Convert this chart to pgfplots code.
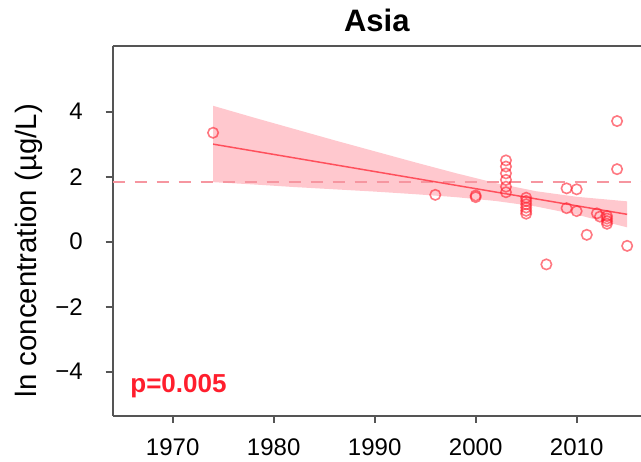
\documentclass[border=0pt]{standalone}
\usepackage{fontspec}
\setmainfont{Liberation Sans}
\usepackage{pgfplots}
\pgfplotsset{compat=1.18}
\definecolor{ptred}{RGB}{255,30,45}
\definecolor{bandpink}{RGB}{255,200,206}
\definecolor{dashpink}{RGB}{246,150,160}
\definecolor{frame}{RGB}{85,85,85}

\begin{document}
\begin{tikzpicture}
\path[use as bounding box] (-56.35bp,-23.25bp) rectangle (264.15bp,207.75bp);
\begin{axis}[
  name=main,
  at={(0,0)}, anchor=south west,
  scale only axis, width=264.15bp, height=184.75bp,
  xmin=1964.06, xmax=2016.37, ymin=-5.35, ymax=6.02,
  axis x line*=box, axis y line*=left,
  axis line style={frame, line width=1bp},
  xtick={1970,1980,1990,2000,2010},
  xticklabels={1970,1980,1990,2000,2010},
  ytick={-4,-2,0,2,4},
  yticklabels={−4,−2,0,2,4},
  xtick pos=bottom, ytick pos=left,
  tick align=outside, major tick length=3.5bp,
  tick style={frame, line width=1bp},
  tick label style={font=\fontsize{12bp}{14bp}\selectfont, text=black},
  xticklabel style={yshift=-4.4bp},
  yticklabel style={xshift=-8bp},
  ylabel={ln concentration (µg/L)},
  ylabel style={at={(axis description cs:-0.159,0.446)}, anchor=center,
    font=\fontsize{14.7bp}{16bp}\selectfont},
  clip mode=individual,
]
% confidence band
\addplot[draw=none, fill=bandpink] coordinates {
  (1974,4.18) (1978,3.82) (1982,3.47) (1986,3.12) (1990,2.78) (1994,2.44)
  (1998,2.11) (2002,1.80) (2006,1.55) (2010,1.38) (2015,1.24)
  (2015,0.44) (2010,0.83) (2006,1.08) (2002,1.25) (1998,1.37) (1994,1.46)
  (1990,1.54) (1986,1.61) (1982,1.68) (1978,1.76) (1974,1.83)} -- cycle;
% reference level
\addplot[dashpink, line width=1bp, dash pattern=on 6bp off 5bp] coordinates {(1964.06,1.85) (2016.37,1.85)};
% fitted trend
\addplot[ptred, draw opacity=0.7, line width=0.75bp] coordinates {(1974,3.00) (2015,0.84)};
% observations
\addplot[only marks, mark=o, mark size=2.6bp,
  mark options={draw=ptred, draw opacity=0.6, line width=0.8bp}] coordinates {
  (1974,3.35) (1996,1.44) (2000,1.42) (2000,1.37)
  (2003,2.50) (2003,2.31) (2003,2.10) (2003,1.90) (2003,1.69) (2003,1.52)
  (2005,1.35) (2005,1.25) (2005,1.15) (2005,1.05) (2005,0.95) (2005,0.86)
  (2007,-0.70) (2009,1.64) (2009,1.03) (2010,1.61) (2010,0.94) (2011,0.21)
  (2012,0.87) (2012.3,0.77) (2013,0.79) (2013,0.71) (2013,0.63) (2013,0.55)
  (2014,3.71) (2014,2.23) (2015,-0.13)};
\end{axis}
\node[anchor=base west, inner sep=0, text=ptred,
  font=\fontsize{13bp}{15bp}\selectfont\bfseries]
  at (main.south west) [xshift=8.65bp, yshift=11.6bp] {p=0.005};
\node[anchor=base, inner sep=0,
  font=\fontsize{15.5bp}{18bp}\selectfont\bfseries]
  at (main.north) [yshift=7bp] {Asia};
\end{tikzpicture}
\end{document}
